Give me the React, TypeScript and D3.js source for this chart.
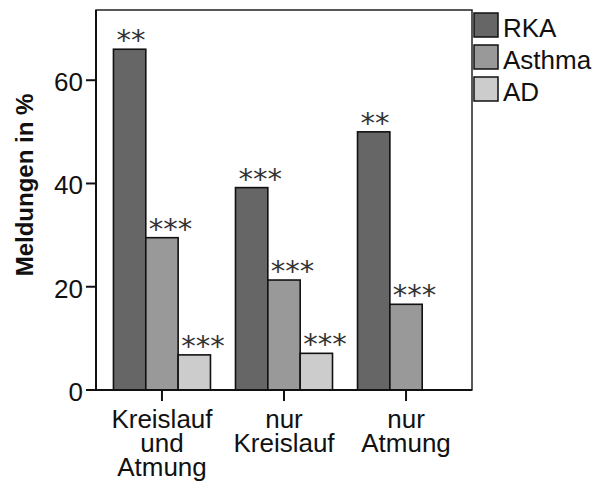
import React from 'react'
import * as d3 from 'd3'

// data
const categories = ['Kreislauf und Atmung', 'nur Kreislauf', 'nur Atmung']
const categoryLines = [['Kreislauf', 'und', 'Atmung'], ['nur', 'Kreislauf'], ['nur', 'Atmung']]
const seriesNames = ['RKA', 'Asthma', 'AD']
const rka = [66, 39.2, 50]
const asthma = [29.5, 21.3, 16.6]
const ad = [6.8, 7.1, 0]
const rkaSig = ['**', '***', '**']
const asthmaSig = ['***', '***', '***']
const adSig = ['***', '***', '']
const yTicks = [0, 20, 40, 60]

const colors = ['#666666', '#999999', '#cccccc']
const font = 'Liberation Sans, Arial, sans-serif'

export default function App () {
  const W = 595
  const H = 488
  const left = 96
  const right = 472
  const top = 10
  const bottom = 390

  const values = [rka, asthma, ad]
  const sigs = [rkaSig, asthmaSig, adSig]

  const y = d3.scaleLinear().domain([0, 73.6]).range([bottom, top])
  const x = d3.scaleBand().domain(categories).range([left, right]).paddingInner(0.205).paddingOuter(0.143)
  const xs = d3.scaleBand().domain(seriesNames).range([0, x.bandwidth()])

  return (
    <svg width={W} height={H} style={{position: 'absolute', left: 0, top: 0, background: '#fff'}} fontFamily={font}>
      <rect x={left} y={top} width={right - left} height={bottom - top} fill='none' stroke='#222' strokeWidth={1.5} />
      {categories.map((c, i) => (
        <g key={c}>
          {seriesNames.map((s, j) => {
            const v = values[j][i]
            const bx = x(c) + xs(s)
            return (
              <g key={s}>
                <rect x={bx} y={y(v)} width={xs.bandwidth()} height={bottom - y(v)} fill={colors[j]} stroke='#111' strokeWidth={1.6} />
                {sigs[j][i] && (
                  <text x={bx + 3} y={y(v) + 1} fontFamily='DejaVu Sans' fontSize={29} fill='#333'>{sigs[j][i]}</text>
                )}
              </g>
            )
          })}
        </g>
      ))}
      {/* y axis */}
      <line x1={left} x2={left} y1={top} y2={bottom} stroke='#111' strokeWidth={2} />
      {yTicks.map(t => (
        <g key={t}>
          <line x1={left - 10} x2={left} y1={y(t)} y2={y(t)} stroke='#111' strokeWidth={2} />
          <text x={left - 13} y={y(t) + 11} textAnchor='end' fontSize={26} fill='#111'>{t}</text>
        </g>
      ))}
      {/* x axis */}
      <line x1={left} x2={right} y1={bottom} y2={bottom} stroke='#111' strokeWidth={2} />
      {categories.map((c, i) => {
        const cx = x(c) + x.bandwidth() / 2
        return (
          <g key={c}>
            <line x1={cx} x2={cx} y1={bottom} y2={bottom + 11} stroke='#111' strokeWidth={2} />
            {categoryLines[i].map((l, k) => (
              <text key={k} x={cx} y={428 + k * 24} textAnchor='middle' fontSize={26} fill='#111'>{l}</text>
            ))}
          </g>
        )
      })}
      <text transform={`translate(33,185) rotate(-90)`} textAnchor='middle' fontSize={24} fontWeight='bold' fill='#111'>Meldungen in %</text>
      {/* legend */}
      {seriesNames.map((s, j) => (
        <g key={s} transform={`translate(474,${13 + j * 32})`}>
          <rect width={24} height={24} fill={colors[j]} stroke='#111' strokeWidth={1.5} />
          <text x={29} y={24} fontSize={26} fill='#111'>{s}</text>
        </g>
      ))}
    </svg>
  )
}
